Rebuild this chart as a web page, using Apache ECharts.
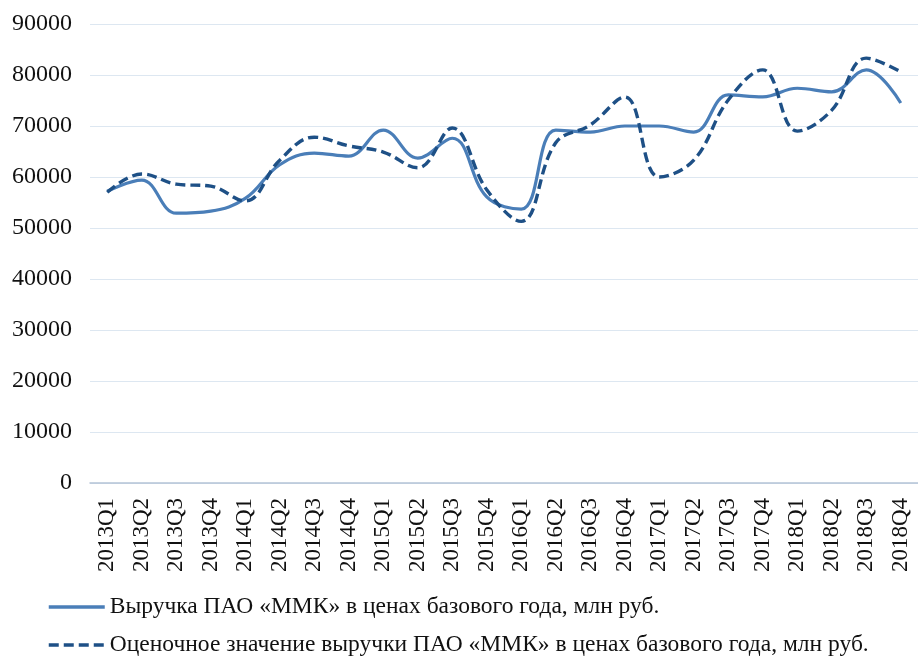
<!DOCTYPE html>
<html>
<head>
<meta charset="utf-8">
<script src="https://cdn.jsdelivr.net/npm/echarts@6/dist/echarts.min.js"></script>
<style>
  html, body { margin: 0; padding: 0; background: #fff; }
  #chart { width: 918px; height: 657px; }
</style>
</head>
<body>
<div id="chart"></div>
<script>
// кварталы
const quarters = [
  '2013Q1', '2013Q2', '2013Q3', '2013Q4', '2014Q1', '2014Q2', '2014Q3', '2014Q4',
  '2015Q1', '2015Q2', '2015Q3', '2015Q4', '2016Q1', '2016Q2', '2016Q3', '2016Q4',
  '2017Q1', '2017Q2', '2017Q3', '2017Q4', '2018Q1', '2018Q2', '2018Q3', '2018Q4'
]
// выручка в ценах базового года
const revenue = [
  57200, 59400, 52900, 53300, 55800, 62400, 64700, 64100,
  69200, 63700, 67600, 56100, 53700, 69200, 68800, 70000,
  70000, 68800, 76100, 75700, 77400, 76700, 81000, 74500
]
// оценочное значение
const estimate = [
  57000, 60600, 58600, 58200, 55300, 63300, 67800, 66100,
  64900, 61800, 69600, 57500, 51300, 66700, 70200, 75700,
  60000, 63300, 75100, 81000, 69000, 73100, 83300, 80600
]
const yTicks = { min: 0, max: 90000, interval: 10000 }

const serif = '"Liberation Serif", "DejaVu Serif", serif'
const nameRevenue = 'Выручка ПАО «ММК» в ценах базового года, млн руб.'
const nameEstimate = 'Оценочное значение выручки ПАО «ММК» в ценах базового года, млн руб.'

// общий вид строки легенды
function legendRow(name, top) {
  return {
    orient: 'vertical',
    left: 42,
    top: top,
    itemWidth: 56,
    itemHeight: 14,
    itemStyle: { opacity: 0 },
    lineStyle: { width: 3.5 },
    textStyle: { fontFamily: serif, fontSize: 23.5, lineHeight: 24, color: '#111' },
    data: [name]
  }
}

const chart = echarts.init(document.getElementById('chart'))
chart.setOption({
  animation: false,
  grid: { left: 90, right: -5, top: 24, bottom: 174 },
  xAxis: {
    type: 'category',
    data: quarters,
    boundaryGap: true,
    axisTick: { show: false },
    axisLine: { lineStyle: { color: '#b4c3d6', width: 1.5 } },
    axisLabel: {
      interval: 0,
      rotate: 90,
      margin: 15,
      color: '#111',
      fontFamily: serif,
      fontSize: 23
    }
  },
  yAxis: {
    type: 'value',
    min: yTicks.min,
    max: yTicks.max,
    interval: yTicks.interval,
    axisLine: { show: false },
    axisTick: { show: false },
    splitLine: { lineStyle: { color: '#dde7f1', width: 1 } },
    axisLabel: {
      color: '#111',
      fontFamily: serif,
      fontSize: 24,
      margin: 18,
      formatter: v => String(v)
    }
  },
  legend: [
    legendRow(nameRevenue, 590),
    legendRow(nameEstimate, 628)
  ],
  series: [
    {
      name: nameRevenue,
      type: 'line',
      data: revenue,
      smooth: 0.4,
      symbol: 'none',
      lineStyle: { color: '#4a7eb8', width: 3.2 },
      itemStyle: { color: '#4a7eb8' }
    },
    {
      name: nameEstimate,
      type: 'line',
      data: estimate,
      smooth: 0.4,
      symbol: 'none',
      lineStyle: { color: '#1e5086', width: 3.4, type: [10, 5] },
      itemStyle: { color: '#1e5086' }
    }
  ]
})
</script>
</body>
</html>
